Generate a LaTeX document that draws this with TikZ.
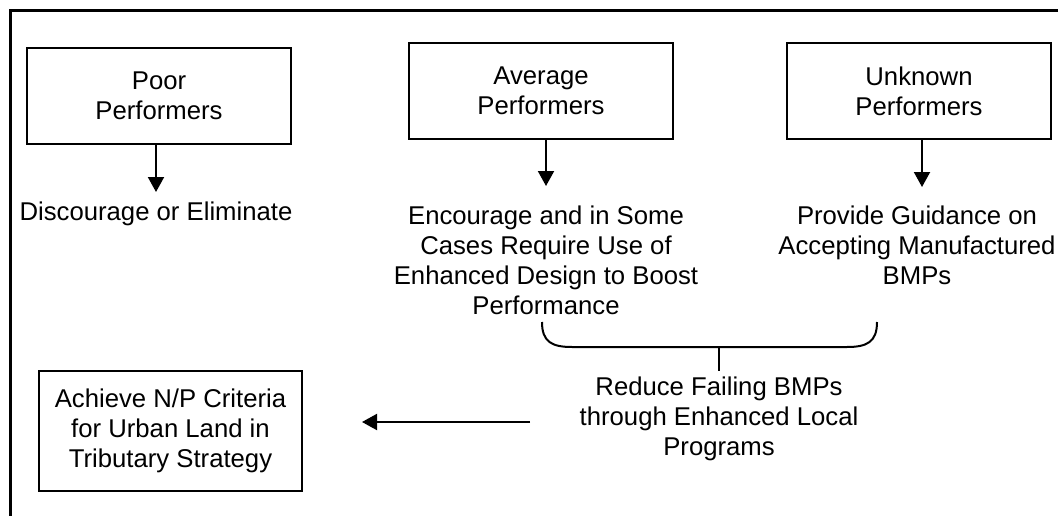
\documentclass[tikz,border=0pt]{standalone}
\usepackage{fontspec}
\setmainfont{Liberation Sans}
\usetikzlibrary{arrows.meta}
\begin{document}
\begin{tikzpicture}[x=1pt,y=-1pt,
  every node/.style={font=\fontsize{25.7}{30}\selectfont, align=center, inner sep=0pt},
  perfbox/.style={draw, line width=2pt, minimum width=264pt, minimum height=96pt},
  goalbox/.style={draw, line width=2pt, minimum width=263pt, minimum height=120pt},
  flow/.style={line width=2pt, -{Triangle[width=16pt,length=15pt]}},
  link/.style={line width=2pt}]
  \useasboundingbox (0,0) rectangle (1059,516);
  % open frame: top and left edges only
  \draw[line width=3pt] (1058,10.5) -- (10.5,10.5) -- (10.5,518);

  % performer categories
  \node[perfbox] (poor) at (159,96) {Poor\\Performers};
  \node[perfbox] (avg)  at (541,91) {Average\\Performers};
  \node[perfbox] (unk)  at (919,91) {Unknown\\Performers};

  % responses
  \node (disc) at (156,214) {Discourage or Eliminate};
  \node (enc)  at (546,260) {Encourage and in Some\\Cases Require Use of\\Enhanced Design to Boost\\Performance};
  \node (guid) at (917,245) {Provide Guidance on\\Accepting Manufactured\\BMPs};

  \coordinate (pt) at (156,192);
  \coordinate (at) at (546,186);
  \coordinate (ut) at (922,187);
  \draw[flow] (poor.south -| pt) -- (pt);
  \draw[flow] (avg.south -| at) -- (at);
  \draw[flow] (unk.south -| ut) -- (ut);

  % bracket joining the two responses
  \coordinate (bl) at (542,322);
  \coordinate (br) at (877,322);
  \coordinate (bm) at (719,347);
  \coordinate (bs) at (719,371);
  \draw[link] (bl) .. controls (542,342) and (552,347) .. (572,347)
    -- (847,347) .. controls (867,347) and (877,342) .. (br);
  \draw[link] (bm) -- (bs);

  % outcome
  \node (red) at (719,419) {Reduce Failing BMPs\\through Enhanced Local\\Programs};
  \node[goalbox] (goal) at (170.5,431) {Achieve N/P Criteria\\for Urban Land in\\Tributary Strategy};
  \coordinate (rs) at (530,422);
  \coordinate (gt) at (362,422);
  \draw[flow] (rs) -- (gt);
\end{tikzpicture}
\end{document}
